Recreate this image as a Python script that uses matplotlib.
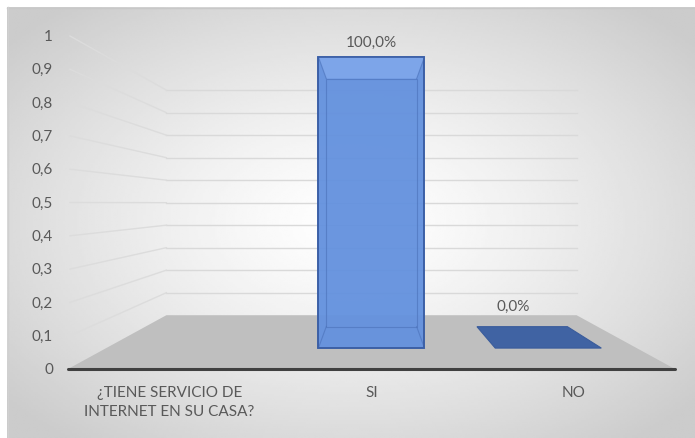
import numpy as np
import matplotlib
matplotlib.use("Agg")
import matplotlib.pyplot as plt
from matplotlib.patches import Polygon

# data
categories = ["¿TIENE SERVICIO DE\nINTERNET EN SU CASA?", "SI", "NO"]
values = [None, 1.0, 0.0]          # first category has no bar
value_labels = [None, "100,0%", "0,0%"]
y_ticks = [0, 0.1, 0.2, 0.3, 0.4, 0.5, 0.6, 0.7, 0.8, 0.9, 1]
y_tick_labels = ["0", "0,1", "0,2", "0,3", "0,4", "0,5", "0,6", "0,7", "0,8", "0,9", "1"]

# layout of the 3D-looking plot (pixel space of a 695x439 image)
W, H = 695, 439
X0, CAT_W = 68, 202.3      # front plane: left edge and width per category
Y0, V_H = 370, 333         # front plane: value 0 and height of value 1
VP = (371.5, 204)          # vanishing point
S_BACK = 0.676             # scale of back wall
BAR_S = (0.874, 0.745)     # front/back scale of bars
BAR_W = 0.6                # bar width in category units

TEXT = "#595959"
FONT = ["Lato", "DejaVu Sans"]
FS = 11


def proj(x, v, s):
    """category position x, value v, depth scale s -> pixels"""
    px = X0 + x * CAT_W
    py = Y0 - v * V_H
    return (VP[0] + s * (px - VP[0]), VP[1] + s * (py - VP[1]))


def main():
    plt.rcParams['font.family'] = FONT
    fig = plt.figure(figsize=(W / 100, H / 100), dpi=100)
    ax = fig.add_axes([0, 0, 1, 1])
    ax.set_xlim(0, W)
    ax.set_ylim(H, 0)
    ax.axis("off")

    # chart area background: radial grey gradient
    gx, gy = np.meshgrid(np.linspace(-1, 1, 300), np.linspace(-1, 1, 200))
    r = np.clip(np.sqrt(gx ** 2 + gy ** 2) / 1.3, 0, 1)
    grad = 1.0 - 0.2 * r ** 1.3
    ax.imshow(grad, cmap="gray", vmin=0, vmax=1, extent=(7, W, H, 8),
              aspect="auto", zorder=0, interpolation="bilinear")
    ax.plot([7, W], [8.5, 8.5], color="#c8c8c8", lw=1, zorder=1)
    ax.plot([7.5, 7.5], [8, H], color="#d0d0d0", lw=1, zorder=1)

    n = len(categories)
    # floor
    floor = [proj(0, 0, 1), proj(n, 0, 1), proj(n, 0, S_BACK), proj(0, 0, S_BACK)]
    ax.add_patch(Polygon(floor, closed=True, fc="#bfbfbf", ec="none", zorder=2))

    # gridlines: back wall and left side wall
    for v in y_ticks[1:]:
        b0 = proj(0, v, S_BACK)
        b1 = proj(n, v, S_BACK)
        f0 = proj(0, v, 1)
        ax.plot([b0[0], b1[0]], [b0[1], b1[1]], color="#d9d9d9", lw=1, zorder=1.5)
        ax.plot([f0[0] + 2, b0[0]], [f0[1], b0[1]], color="#dcdcdc", lw=1, zorder=1.5)

    # front axis line
    a0, a1 = proj(0, 0, 1), proj(n, 0, 1)
    ax.plot([a0[0], a1[0]], [a0[1], a1[1]], color="#404040", lw=2.2,
            solid_capstyle="round", zorder=6)

    # y tick labels
    for v, lab in zip(y_ticks, y_tick_labels):
        p = proj(0, v, 1)
        ax.text(p[0] - 15, p[1], lab, ha="right", va="center",
                fontsize=FS, color=TEXT, zorder=7)

    # category labels
    for i, lab in enumerate(categories):
        p = proj(i + 0.5, 0, 1)
        ax.text(p[0], p[1] + 16, lab, ha="center", va="top", fontsize=FS,
                color=TEXT, linespacing=1.45, zorder=7)

    # bars
    sf, sb = BAR_S
    for i, v in enumerate(values):
        if v is None:
            continue
        xl = i + 0.5 - BAR_W / 2
        xr = i + 0.5 + BAR_W / 2
        if v > 0:
            front = [proj(xl, 0, sf), proj(xr, 0, sf), proj(xr, v, sf), proj(xl, v, sf)]
            back = [proj(xl, 0, sb), proj(xr, 0, sb), proj(xr, v, sb), proj(xl, v, sb)]
            top = [proj(xl, v, sf), proj(xr, v, sf), proj(xr, v, sb), proj(xl, v, sb)]
            ax.add_patch(Polygon(front, closed=True, fc="#6391de", ec="#3b5fa6",
                                 lw=1.2, alpha=0.95, zorder=4))
            ax.add_patch(Polygon(top, closed=True, fc="#8ab1f2", ec="none",
                                 alpha=0.6, zorder=4.2))
            ax.add_patch(Polygon(back, closed=True, fc="none", ec="#4a70b8",
                                 lw=0.8, alpha=0.6, zorder=4.3))
            for k in range(4):
                ax.plot([front[k][0], back[k][0]], [front[k][1], back[k][1]],
                        color="#4a70b8", lw=0.8, alpha=0.6, zorder=4.3)
            ax.add_patch(Polygon(front, closed=True, fc="none", ec="#3b5fa6",
                                 lw=1.2, zorder=4.5))
            lp = proj(i + 0.5, v, sf)
            ax.text(lp[0], lp[1] - 8, value_labels[i], ha="center", va="bottom",
                    fontsize=FS, color=TEXT, zorder=7)
        else:
            flat = [proj(xl, v, sf), proj(xr, v, sf), proj(xr, v, sb), proj(xl, v, sb)]
            ax.add_patch(Polygon(flat, closed=True, fc="#4063a3", ec="#3a5c9c",
                                 lw=0.8, zorder=4))
            lp = proj(i + 0.5 - 0.06, v, sb)
            ax.text(lp[0], lp[1] - 14, value_labels[i], ha="center", va="bottom",
                    fontsize=FS, color=TEXT, zorder=7)

    fig.savefig("out.png", dpi=100)


if __name__ == "__main__":
    main()
